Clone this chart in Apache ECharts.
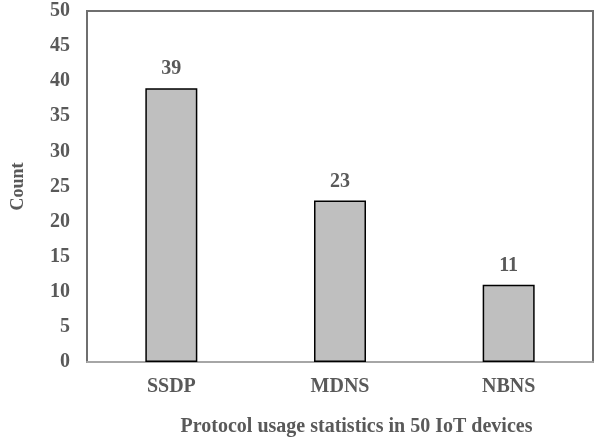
<!DOCTYPE html>
<html>
<head>
<meta charset="utf-8">
<script src="https://cdn.jsdelivr.net/npm/echarts@6/dist/echarts.min.js"></script>
<style>html,body{margin:0;padding:0;background:#fff}#c{width:614px;height:442px}</style>
</head>
<body>
<div id="c"></div>
<script>
const categories = ["SSDP", "MDNS", "NBNS"];
const counts = [39, 23, 11];
const yTicks = [0, 5, 10, 15, 20, 25, 30, 35, 40, 45, 50];

const font = "Liberation Serif, Times New Roman, serif";
const textColor = "#595959";
const chart = echarts.init(document.getElementById("c"), null, {renderer: "canvas"});
chart.setOption({
  animation: false,
  backgroundColor: "#fff",
  grid: {left: 87, right: 21, top: 11, bottom: 80, show: true, borderColor: "#6f6f6f", borderWidth: 2, backgroundColor: "transparent"},
  xAxis: {
    type: "category",
    data: categories,
    axisLine: {show: true, lineStyle: {color: "#a6a6a6", width: 2}},
    axisTick: {show: false},
    axisLabel: {color: textColor, fontFamily: font, fontWeight: "bold", fontSize: 20, margin: 15},
    name: "Protocol usage statistics in 50 IoT devices",
    nameLocation: "middle",
    nameGap: 55,
    nameTextStyle: {color: textColor, fontFamily: font, fontWeight: "bold", fontSize: 20, padding: [0, 0, 0, 33]}
  },
  yAxis: {
    type: "value",
    min: yTicks[0],
    max: yTicks[yTicks.length - 1],
    interval: yTicks[1] - yTicks[0],
    splitLine: {show: false},
    axisLine: {show: false},
    axisTick: {show: false},
    axisLabel: {color: textColor, fontFamily: font, fontWeight: "bold", fontSize: 20, margin: 17},
    name: "Count",
    nameLocation: "middle",
    nameGap: 60,
    nameTextStyle: {color: textColor, fontFamily: font, fontWeight: "bold", fontSize: 18}
  },
  series: [{
    type: "bar",
    data: counts,
    barWidth: 52,
    itemStyle: {color: "#bfbfbf", borderColor: "#000", borderWidth: 1.5},
    label: {show: true, position: "top", distance: 9, color: textColor, fontFamily: font, fontWeight: "bold", fontSize: 20}
  }]
});
</script>
</body>
</html>
